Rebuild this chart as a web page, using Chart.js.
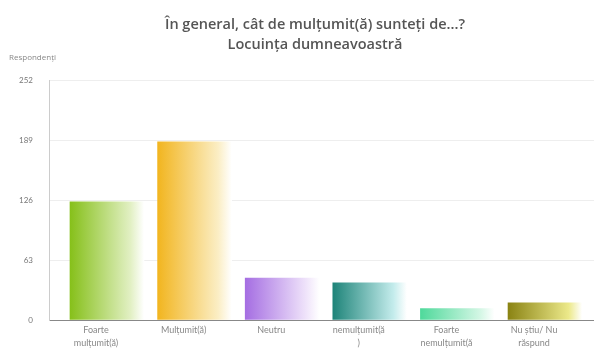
<!DOCTYPE html>
<html>
<head>
<meta charset="utf-8">
<script src="https://cdn.jsdelivr.net/npm/chart.js@4/dist/chart.umd.min.js"></script>
<style>
  html, body { margin: 0; padding: 0; background: #fff; }
  #wrap { position: relative; width: 594px; height: 358px; font-family: "Open Sans", Lato, sans-serif; }
  #title { position: absolute; left: 36px; right: 0; top: 14px; text-align: center; font-weight: 600; font-size: 14.5px; line-height: 20px; color: #555; }
  #ylab { position: absolute; left: 9px; top: 51px; font-size: 8px; color: #888; }
  canvas { position: absolute; left: 0; top: 0; }
</style>
</head>
<body>
<div id="wrap">
  <canvas id="chart" width="594" height="358"></canvas>
  <div id="title">În general, cât de mulțumit(ă) sunteți de...?<br>Locuința dumneavoastră</div>
  <div id="ylab">Respondenți</div>
</div>
<script>
// date
const categories = [
  ["Foarte", "mulțumit(ă)"],
  "Mulțumit(ă)",
  "Neutru",
  ["nemulțumit(ă", ")"],
  ["Foarte", "nemulțumit(ă"],
  ["Nu știu/ Nu", "răspund"]
];
const values = [124, 187, 44, 39, 12, 18];
const yTicks = [0, 63, 126, 189, 252];
const darkColors = ["#86c01a", "#f2b51f", "#a56ee2", "#1e8479", "#4fd99b", "#8a8313"];
const lightColors = ["#e2f0c4", "#fbeec5", "#efe3fa", "#c4ecec", "#d6f7e6", "#ece98a"];

const ctx = document.getElementById("chart");

// degrade de la stanga la dreapta pentru fiecare bara
function barGradient(context) {
  const chart = context.chart;
  const i = context.dataIndex;
  if (!chart.chartArea || !chart.scales.x) return darkColors[i];
  const x = chart.scales.x.getPixelForValue(i);
  const g = chart.ctx.createLinearGradient(x - 37, 0, x + 37, 0);
  g.addColorStop(0, darkColors[i]);
  g.addColorStop(0.82, lightColors[i]);
  g.addColorStop(1, "#ffffff");
  return g;
}

new Chart(ctx, {
  type: "bar",
  data: {
    datasets: [{
      data: values.map((v, i) => ({ x: i, y: v })),
      backgroundColor: barGradient,
      borderWidth: 0,
      barThickness: 74
    }]
  },
  options: {
    responsive: false,
    animation: false,
    layout: { padding: { top: 80, right: 0, left: 0, bottom: 0 } },
    plugins: { legend: { display: false }, tooltip: { enabled: false } },
    scales: {
      x: {
        type: "linear",
        offset: false,
        min: -0.662,
        max: 5.559,
        grid: { display: false, drawTicks: false, offset: false },
        border: { color: "#888", width: 1 },
        afterFit: (scale) => { scale.height = 38; },
        ticks: {
          stepSize: 1,
          includeBounds: false,
          autoSkip: false,
          maxRotation: 0,
          padding: 3,
          labelOffset: -11,
          color: "#888",
          font: { family: "Lato", size: 9, lineHeight: 1.5 },
          callback: (v) => Number.isInteger(v) && categories[v] !== undefined ? categories[v] : ""
        }
      },
      y: {
        min: 0,
        max: 252,
        grid: { color: "#eeeeee", drawTicks: false },
        border: { color: "#cccccc", width: 1 },
        afterFit: (scale) => { scale.width = 49; },
        afterBuildTicks: (scale) => { scale.ticks = yTicks.map(v => ({ value: v })); },
        ticks: {
          padding: 16,
          color: "#777",
          font: { family: "Lato", size: 8 }
        }
      }
    }
  }
});
</script>
</body>
</html>
